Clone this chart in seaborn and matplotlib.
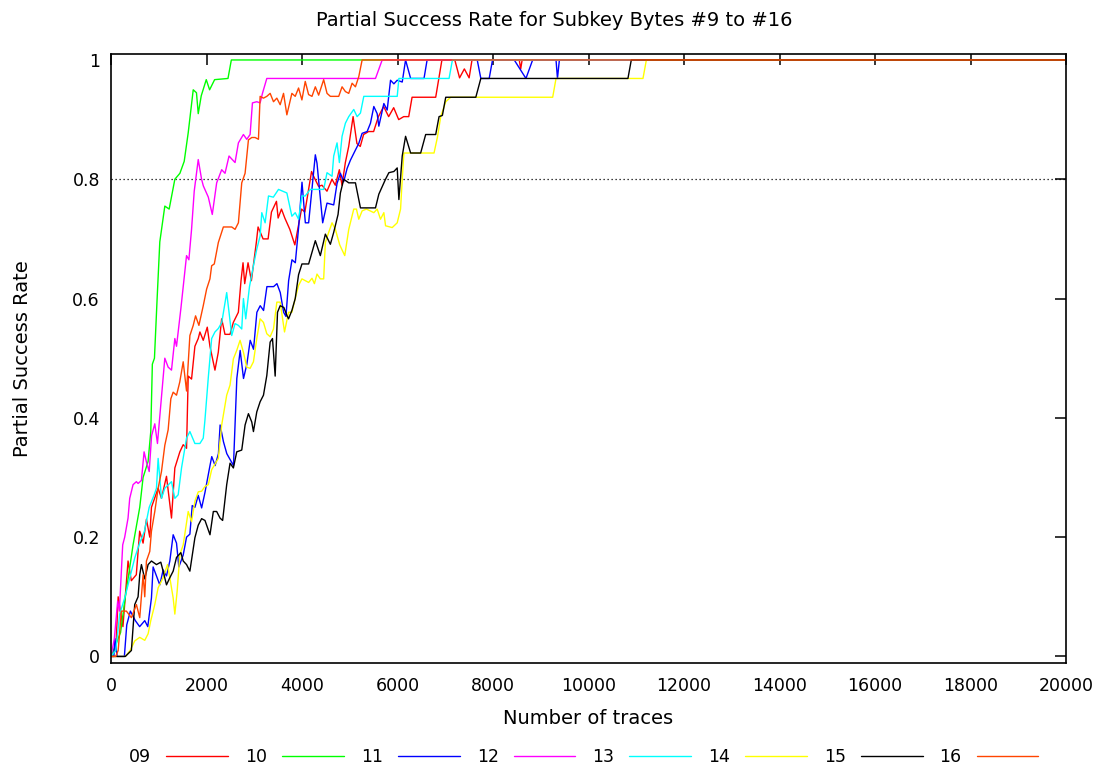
import matplotlib
matplotlib.use("Agg")
import matplotlib.pyplot as plt
import seaborn as sns
import pandas as pd
from matplotlib.lines import Line2D

# ---- data (traces, partial success rate) ----
byte09_x = [0,100,150,250,357,426,530,600,672,742,812,847,987,1057,1162,1267,1337,1442,1512,1582,1617,1687,1757,1827,1862,1932,2016,2072,2177,2247,2317,2387,2492,2562,2667,2723,2765,2800,2870,2940,3045,3080,3185,3290,3360,3465,3500,3570,3640,3745,3850,3920,3990,4060,4200,4243,4348,4418,4523,4628,4698,4782,4838,4908,4978,5070,5150,5220,5290,5395,5500,5600,5710,5815,5920,6025,6130,6235,6305,6800,6930,7200,7300,7400,7500,7560,8550,8580,8610,20000]
byte09_y = [0,0.01,0.1,0.05,0.16,0.127,0.137,0.21,0.19,0.23,0.2,0.25,0.282,0.265,0.302,0.232,0.316,0.343,0.355,0.349,0.47,0.465,0.52,0.533,0.544,0.53,0.552,0.52,0.48,0.51,0.566,0.54,0.54,0.56,0.577,0.63,0.66,0.625,0.66,0.63,0.695,0.72,0.7,0.7,0.745,0.763,0.735,0.75,0.735,0.716,0.69,0.72,0.75,0.745,0.813,0.805,0.788,0.79,0.78,0.8,0.79,0.816,0.79,0.828,0.855,0.905,0.86,0.855,0.875,0.88,0.88,0.905,0.922,0.905,0.92,0.9,0.905,0.905,0.9375,0.9375,1.0,1.0,0.97,0.985,0.97,1.0,1.0,0.985,1.0,1.0]

byte10_x = [0,100,200,300,357,462,602,672,777,833,866,910,966,1022,1127,1218,1337,1443,1533,1617,1722,1790,1827,1890,1995,2065,2170,2450,2520,20000]
byte10_y = [0,0.02,0.04,0.1,0.13,0.187,0.25,0.3,0.327,0.377,0.49,0.5,0.6,0.695,0.755,0.75,0.8,0.81,0.83,0.878,0.95,0.945,0.91,0.94,0.967,0.95,0.967,0.969,1.0,1.0]

byte11_x = [0,60,80,130,280,330,406,510,600,707,770,847,882,952,1022,1092,1162,1232,1302,1372,1421,1512,1582,1652,1701,1757,1827,1898,1968,2073,2110,2180,2250,2285,2355,2425,2495,2565,2635,2705,2775,2845,2915,2985,3055,3125,3195,3265,3335,3405,3475,3545,3615,3664,3720,3790,3860,3930,4000,4070,4139,4279,4314,4433,4524,4664,4734,4804,4874,4944,5014,5119,5189,5259,5364,5434,5504,5574,5609,5714,5784,5854,5924,5994,6099,6169,6275,6555,6620,7670,7745,7920,7990,8445,8690,8830,9320,9350,9390,20000]
byte11_y = [0,0.0,0.03,0.0,0.0,0.053,0.076,0.06,0.05,0.06,0.05,0.098,0.15,0.135,0.12,0.145,0.135,0.16,0.204,0.19,0.15,0.17,0.2,0.205,0.253,0.25,0.27,0.249,0.275,0.32,0.335,0.32,0.34,0.388,0.36,0.34,0.33,0.32,0.466,0.513,0.466,0.49,0.53,0.515,0.577,0.588,0.58,0.62,0.62,0.62,0.625,0.61,0.577,0.57,0.63,0.665,0.66,0.72,0.795,0.727,0.727,0.841,0.827,0.727,0.76,0.757,0.793,0.81,0.796,0.818,0.832,0.849,0.86,0.877,0.88,0.894,0.922,0.91,0.889,0.927,0.916,0.966,0.96,0.966,0.963,1.0,0.969,0.969,1.0,1.0,0.969,0.969,1.0,1.0,0.969,1.0,1.0,0.969,1.0,1.0]

byte12_x = [0,70,140,175,245,287,357,392,462,532,567,637,693,742,800,850,917,973,1127,1197,1267,1337,1372,1463,1582,1631,1687,1743,1827,1897,1933,2038,2121,2213,2318,2388,2472,2528,2598,2668,2773,2843,2913,2962,3053,3123,3172,3263,5539,5679,20000]
byte12_y = [0,0.03,0.093,0.076,0.187,0.2,0.232,0.265,0.288,0.293,0.29,0.295,0.343,0.326,0.31,0.37,0.39,0.357,0.5,0.485,0.48,0.533,0.52,0.583,0.672,0.665,0.716,0.78,0.833,0.8,0.789,0.77,0.741,0.794,0.816,0.81,0.839,0.834,0.828,0.861,0.875,0.867,0.875,0.928,0.93,0.928,0.944,0.969,0.969,1.0,1.0]

byte13_x = [0,100,182,287,357,497,600,700,800,900,952,987,1057,1127,1267,1337,1407,1477,1582,1652,1757,1862,1932,1967,2037,2108,2177,2250,2320,2423,2472,2528,2598,2668,2738,2773,2822,2900,2983,3053,3123,3158,3228,3298,3400,3508,3683,3788,3858,3928,3998,4068,4173,4454,4524,4629,4664,4734,4783,4839,4909,4979,5084,5154,5224,5294,5994,6029,7080,7150,20000]
byte13_y = [0,0.01,0.071,0.098,0.12,0.165,0.19,0.21,0.25,0.27,0.282,0.332,0.265,0.282,0.293,0.265,0.271,0.316,0.366,0.377,0.357,0.357,0.366,0.396,0.467,0.533,0.544,0.55,0.56,0.61,0.577,0.538,0.558,0.555,0.549,0.6,0.566,0.62,0.655,0.683,0.705,0.744,0.727,0.772,0.77,0.783,0.777,0.738,0.744,0.733,0.772,0.772,0.783,0.783,0.811,0.805,0.839,0.861,0.828,0.872,0.894,0.905,0.917,0.905,0.911,0.939,0.939,0.969,0.969,1.0,1.0]

byte14_x = [0,100,300,400,497,602,707,777,833,917,987,1092,1183,1232,1302,1337,1386,1442,1512,1617,1687,1757,1827,1898,1968,2038,2108,2248,2318,2423,2493,2563,2633,2703,2773,2843,2913,2983,3053,3123,3193,3263,3333,3403,3473,3543,3634,3718,3788,3858,3928,3999,4139,4209,4260,4314,4384,4454,4489,4559,4629,4699,4790,4895,4979,5084,5140,5189,5259,5350,5504,5574,5644,5714,5750,5889,5994,6064,6099,6134,6765,6835,6905,7010,7115,9250,9320,11141,11212,20000]
byte14_y = [0,0.0,0.0,0.01,0.026,0.032,0.027,0.038,0.06,0.087,0.115,0.132,0.154,0.132,0.098,0.071,0.11,0.171,0.187,0.243,0.226,0.26,0.276,0.277,0.285,0.288,0.313,0.332,0.388,0.438,0.455,0.499,0.513,0.53,0.51,0.485,0.483,0.494,0.533,0.566,0.56,0.541,0.536,0.549,0.594,0.594,0.544,0.577,0.577,0.6,0.622,0.633,0.627,0.634,0.625,0.641,0.633,0.633,0.694,0.711,0.727,0.716,0.69,0.672,0.716,0.75,0.75,0.733,0.747,0.75,0.744,0.75,0.733,0.744,0.722,0.719,0.727,0.75,0.8,0.844,0.844,0.87,0.905,0.93,0.9375,0.9375,0.969,0.969,1.0,1.0]

byte15_x = [0,100,300,427,497,567,602,637,707,777,847,952,1043,1092,1162,1232,1302,1372,1463,1512,1582,1652,1757,1827,1898,1968,2073,2143,2213,2283,2338,2423,2493,2563,2633,2738,2808,2878,2948,2983,3053,3123,3193,3263,3333,3382,3438,3487,3543,3620,3683,3718,3788,3858,3928,3999,4139,4279,4384,4489,4594,4664,4755,4804,4874,4979,5119,5224,5539,5609,5749,5819,5924,5994,6029,6099,6169,6275,6485,6590,6800,6870,6940,7010,7640,7745,10826,10896,20000]
byte15_y = [0,0,0.0,0.01,0.087,0.1,0.137,0.154,0.13,0.154,0.16,0.154,0.158,0.143,0.12,0.132,0.143,0.166,0.174,0.16,0.154,0.143,0.199,0.22,0.231,0.228,0.204,0.243,0.243,0.232,0.228,0.288,0.324,0.316,0.343,0.346,0.388,0.407,0.393,0.377,0.41,0.427,0.438,0.471,0.527,0.533,0.47,0.577,0.588,0.585,0.572,0.566,0.58,0.6,0.64,0.658,0.658,0.697,0.672,0.708,0.691,0.711,0.741,0.777,0.8,0.794,0.794,0.752,0.752,0.775,0.8,0.811,0.813,0.819,0.766,0.839,0.872,0.844,0.844,0.875,0.875,0.905,0.907,0.9375,0.9375,0.969,0.969,1.0,1.0]

byte16_x = [0,100,150,217,322,427,532,602,672,707,742,812,847,917,987,1057,1127,1197,1253,1302,1372,1440,1512,1582,1652,1722,1771,1841,1932,2003,2072,2108,2163,2248,2353,2423,2528,2598,2668,2738,2808,2878,2948,3018,3088,3123,3193,3263,3333,3403,3473,3543,3613,3683,3788,3858,3928,3998,4068,4138,4209,4279,4349,4454,4524,4594,4769,4839,4909,4979,5049,5119,5189,5259,20000]
byte16_y = [0,0.0,0.01,0.076,0.076,0.065,0.087,0.065,0.137,0.1,0.16,0.176,0.21,0.243,0.282,0.31,0.354,0.38,0.432,0.443,0.438,0.46,0.494,0.445,0.538,0.555,0.571,0.555,0.588,0.616,0.633,0.655,0.658,0.694,0.72,0.72,0.72,0.716,0.727,0.794,0.81,0.866,0.87,0.87,0.867,0.939,0.936,0.939,0.944,0.93,0.936,0.925,0.944,0.908,0.944,0.939,0.953,0.933,0.964,0.942,0.939,0.955,0.941,0.967,0.944,0.939,0.939,0.955,0.947,0.944,0.961,0.955,0.972,1.0,1.0]

series_labels = ["09", "10", "11", "12", "13", "14", "15", "16"]
series_x = [byte09_x, byte10_x, byte11_x, byte12_x, byte13_x, byte14_x, byte15_x, byte16_x]
series_y = [byte09_y, byte10_y, byte11_y, byte12_y, byte13_y, byte14_y, byte15_y, byte16_y]
colors = ["#ff0000", "#00ff00", "#0000ff", "#ff00ff", "#00ffff", "#ffff00", "#000000", "#ff4500"]
x_ticks = list(range(0, 20001, 2000))
y_ticks = [0, 0.2, 0.4, 0.6, 0.8, 1]
y_tick_labels = ["0", "0.2", "0.4", "0.6", "0.8", "1"]

rows = []
for lab, xs, ys in zip(series_labels, series_x, series_y):
    for xv, yv in zip(xs, ys):
        rows.append({"traces": xv, "rate": yv, "byte": lab})
df = pd.DataFrame(rows)

sns.set_theme(style="white")
plt.rcParams["font.family"] = ["DejaVu Sans"]
plt.rcParams["text.color"] = "black"
plt.rcParams["axes.labelcolor"] = "black"
FS = 12.5
FS_LABEL = 14

fig = plt.figure(figsize=(11.08, 7.73), dpi=100)
ax = fig.add_axes([111/1108, 1-663/773, (1066-111)/1108, (663-54)/773])

palette = dict(zip(series_labels, colors))
sns.lineplot(data=df, x="traces", y="rate", hue="byte", palette=palette,
             hue_order=series_labels, estimator=None, sort=False,
             linewidth=1.0, ax=ax, legend=False)

ax.axhline(0.8, color="black", linestyle=(0, (1, 2.2)), linewidth=0.9, zorder=0)

ax.set_xlim(0, 20000)
ax.set_ylim(-0.011, 1.01)
ax.set_xticks(x_ticks)
ax.set_xticklabels([str(t) for t in x_ticks])
ax.set_yticks(y_ticks)
ax.set_yticklabels(y_tick_labels)
ax.tick_params(direction="in", length=8, width=1.1, top=True, right=True,
               labelsize=FS, colors="black")
ax.tick_params(axis="x", pad=10)
ax.tick_params(axis="y", pad=8)
for sp in ax.spines.values():
    sp.set_color("black")
    sp.set_linewidth(1.2)

ax.set_xlabel("Number of traces", fontsize=FS_LABEL, labelpad=10, color="black")
ax.set_ylabel("Partial Success Rate", fontsize=FS_LABEL, labelpad=29, color="black")
fig.text(0.5, 1-20/773, "Partial Success Rate for Subkey Bytes #9 to #16",
         ha="center", va="center", fontsize=FS_LABEL, color="black")

handles = [Line2D([0], [0], color=c, linewidth=1.0) for c in colors]
leg = fig.legend(handles, series_labels, loc="center", bbox_to_anchor=(0.527, 1-757/773),
                 ncol=8, frameon=False, markerfirst=False, fontsize=FS,
                 handlelength=3.56, columnspacing=0.98, handletextpad=0.86)
for t in leg.get_texts():
    t.set_color("black")

fig.savefig("out.png", dpi=100)
